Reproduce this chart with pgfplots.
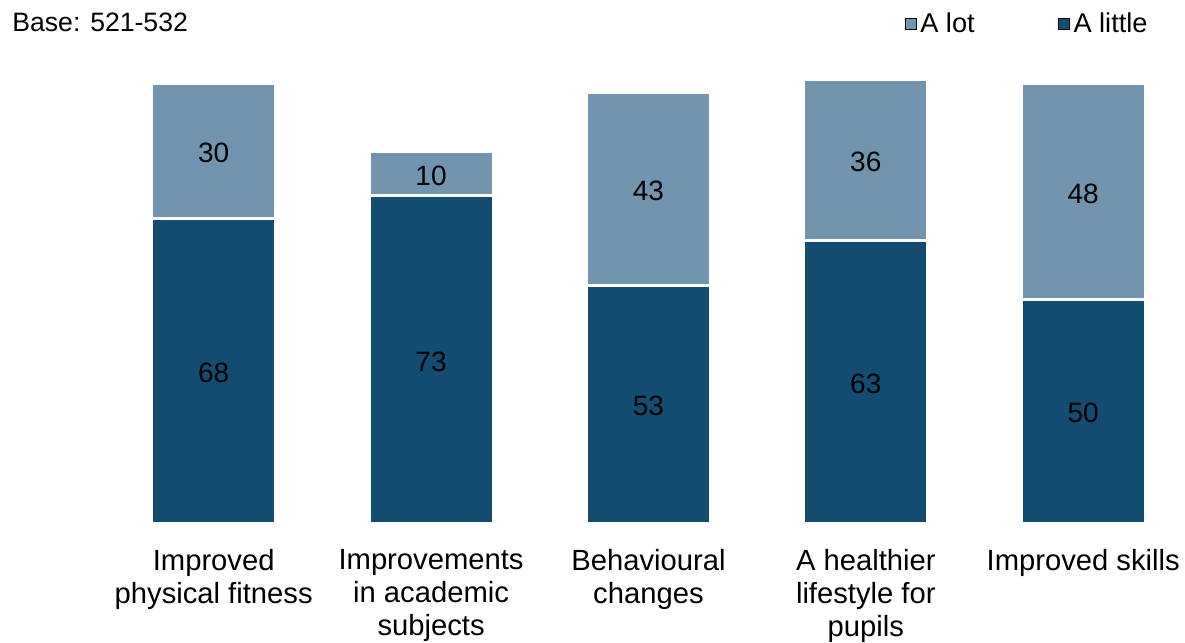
\documentclass[border=0pt]{standalone}
\usepackage{fontspec}
\setmainfont{Liberation Sans}
\usepackage{pgfplots}
\pgfplotsset{compat=1.18}
\definecolor{lotc}{HTML}{7195AE}
\definecolor{littlec}{HTML}{124D71}
\begin{document}
\begin{tikzpicture}
\begin{axis}[
  at={(0,0)}, anchor=south west,
  scale only axis,
  width=538pt, height=224pt,
  xmin=-0.5, xmax=4.45, ymin=0, ymax=100,
  ybar stacked, bar width=62pt,
  axis line style={draw=none},
  ytick=\empty,
  xtick={0,1,2,3,4},
  xticklabels={{Improved\\physical fitness},{Improvements\\in academic\\subjects},{Behavioural\\changes},{A healthier\\lifestyle for\\pupils},{Improved skills}},
  major tick length=0pt,
  xticklabel style={align=center, font=\fontsize{14.6}{16.5}\selectfont, anchor=north, yshift=-9.5pt, text depth=0pt},
  /pgf/number format/assume math mode=true,
  nodes near coords,
  every node near coord/.append style={anchor=center, font=\fontsize{14}{16}\selectfont, text=black, yshift=-1pt},
  legend columns=2,
  legend style={draw=none, inner sep=0pt, at={(axis cs:4.45,100)}, anchor=south east, xshift=-14.5pt, yshift=17.5pt, font=\fontsize{13.6}{15}\selectfont, /tikz/every even column/.append style={column sep=39.5pt}, /tikz/every odd column/.append style={column sep=0pt}},
  legend image code/.code={\fill[#1] (0pt,-2.75pt) rectangle (5.5pt,2.75pt);},
  clip=false,
]
\addplot[fill=littlec, draw=white, line width=1.5pt, forget plot] coordinates {(0,68) (1,73) (2,53) (3,63) (4,50)};
\addplot[fill=lotc, draw=white, line width=1.5pt, forget plot] coordinates {(0,30) (1,10) (2,43) (3,36) (4,48)};
\addlegendimage{fill=lotc}
\addlegendentry{A lot}
\addlegendimage{fill=littlec}
\addlegendentry{A little}
\end{axis}
\node[anchor=west, inner sep=0pt, font=\fontsize{13.3}{15}\selectfont] at (-46.5pt,250.5pt) {Base: 521-532};
\pgfresetboundingbox
\path (-52.5pt,-60pt) rectangle (540pt,261.5pt);
\end{tikzpicture}
\end{document}
